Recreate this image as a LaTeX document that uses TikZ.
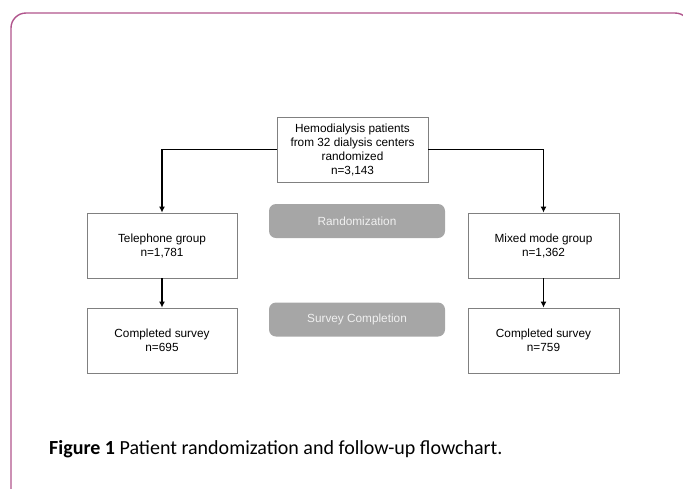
\documentclass[tikz,border=0pt]{standalone}
\usepackage{fontspec}
\setmainfont{Liberation Sans}
\newfontfamily\captionfont{Carlito}
\usetikzlibrary{arrows.meta}
\definecolor{framepink}{RGB}{176,84,140}
\definecolor{boxgrey}{RGB}{128,128,128}
\definecolor{stagegrey}{RGB}{166,166,166}
\tikzset{
  flowbox/.style={draw=boxgrey, line width=0.8pt, fill=white, align=center,
    inner sep=0pt, font=\fontsize{11.8}{14}\selectfont},
  stagebox/.style={fill=stagegrey, rounded corners=7pt, text=white!94!black,
    inner sep=0pt, minimum width=176pt, minimum height=34pt,
    font=\fontsize{11.8}{14}\selectfont},
  flowarrow/.style={-{Latex[length=6pt,width=6pt]}, line width=1.3pt},
}
\begin{document}
\begin{tikzpicture}[x=1pt,y=-1pt]
\useasboundingbox (0,0) rectangle (683,488);
\clip (0,0) rectangle (683,488);
\draw[framepink, line width=1.4pt, rounded corners=15pt]
  (11,520) -- (11,13) -- (690,13) -- (690,520);
\node[flowbox, minimum width=151pt, minimum height=65pt] (patients) at (352.5,149.5)
  {Hemodialysis patients\\from 32 dialysis centers\\randomized\\n=3,143};
\node[flowbox, minimum width=150pt, minimum height=65pt] (phone) at (162,245.5)
  {Telephone group\\n=1,781};
\node[flowbox, minimum width=151pt, minimum height=65pt] (mixed) at (543.5,245.5)
  {Mixed mode group\\n=1,362};
\node[flowbox, minimum width=150pt, minimum height=65pt] (phonedone) at (162,340.5)
  {Completed survey\\n=695};
\node[flowbox, minimum width=151pt, minimum height=65pt] (mixeddone) at (543.5,340.5)
  {Completed survey\\n=759};
\node[stagebox] (randstage) at (357,221) {Randomization};
\node[stagebox] (surveystage) at (357,319.5) {Survey Completion};
\draw[flowarrow] (patients.west) -| (phone.north);
\draw[flowarrow] (patients.east) -| (mixed.north);
\draw[flowarrow] (phone.south) -- (phonedone.north);
\draw[flowarrow] (mixed.south) -- (mixeddone.north);
\node[anchor=base west, inner sep=0pt, font=\captionfont\fontsize{20}{24}\selectfont]
  (caption) at (49,454) {\textbf{Figure 1} Patient randomization and follow-up flowchart.};
\end{tikzpicture}
\end{document}
